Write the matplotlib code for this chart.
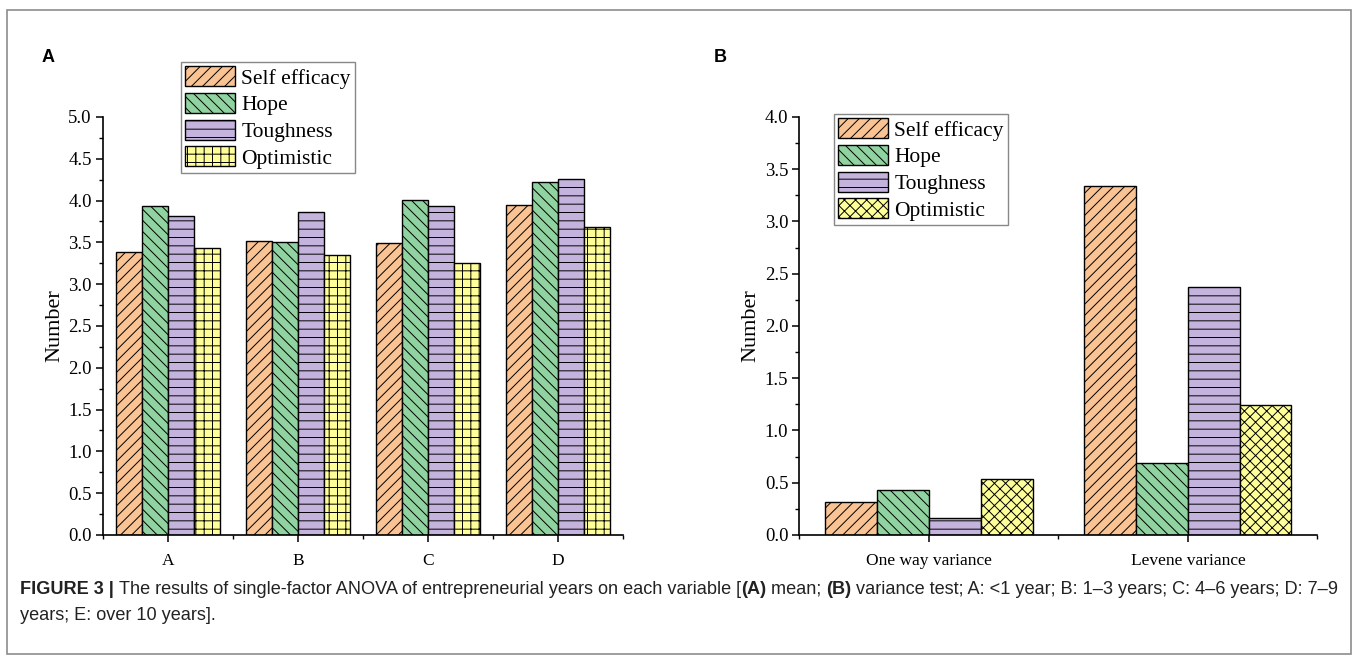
import matplotlib
import matplotlib.pyplot as plt
import numpy as np
from matplotlib.patches import Rectangle
from matplotlib.ticker import MultipleLocator

matplotlib.use("Agg")

# ---- data ----
series = ["Self efficacy", "Hope", "Toughness", "Optimistic"]

groups_a = ["A", "B", "C", "D"]
self_efficacy_a = [3.38, 3.52, 3.49, 3.95]
hope_a = [3.94, 3.51, 4.01, 4.22]
toughness_a = [3.81, 3.86, 3.93, 4.26]
optimistic_a = [3.43, 3.35, 3.25, 3.68]

groups_b = ["One way variance", "Levene variance"]
self_efficacy_b = [0.32, 3.34]
hope_b = [0.43, 0.69]
toughness_b = [0.16, 2.37]
optimistic_b = [0.54, 1.24]

_COLORS = ["#FAC393", "#90D3A0", "#C4B3DD", "#FFFF99"]
_HATCH_A = ["///", "\\\\\\", "--", "++"]
_HATCH_B = ["///", "\\\\\\", "--", "xxx"]

_SERIF = "Liberation Serif"
_SANS = "Liberation Sans"

plt.rcParams["hatch.linewidth"] = 0.7
plt.rcParams["font.family"] = _SERIF


def _panel(ax, groups, values, hatches, ymax):
    n = len(values)
    x = np.arange(1, len(groups) + 1)
    width = 0.2
    for i, (vals, color, hatch, name) in enumerate(zip(values, _COLORS, hatches, series)):
        offset = (i - (n - 1) / 2) * width
        ax.bar(x + offset, vals, width, color=color, edgecolor="black",
               hatch=hatch, linewidth=1.0, label=name, zorder=2)

    ax.set_xlim(0.5, len(groups) + 0.5)
    ax.set_ylim(0, ymax)
    ax.set_xticks(x)
    ax.set_xticklabels(groups, fontsize=12.5)
    ax.set_xticks(np.arange(0.5, len(groups) + 1, 1.0), minor=True)
    ax.yaxis.set_major_locator(MultipleLocator(0.5))
    ax.yaxis.set_minor_locator(MultipleLocator(0.25))
    ax.yaxis.set_major_formatter(matplotlib.ticker.FormatStrFormatter("%.1f"))
    for lbl in ax.get_yticklabels():
        lbl.set_fontsize(13.5)
    ax.tick_params(axis="both", which="major", direction="out", length=5, width=1.1, pad=3)
    ax.tick_params(axis="both", which="minor", direction="out", length=3, width=1.0)
    ax.tick_params(axis="x", which="major", pad=8)
    ax.spines["top"].set_visible(False)
    ax.spines["right"].set_visible(False)
    ax.spines["left"].set_linewidth(1.2)
    ax.spines["bottom"].set_linewidth(1.2)
    ax.set_ylabel("Number", fontsize=16, labelpad=3)


def _legend(ax, x_px, y_px):
    ax.legend(loc="upper left", bbox_to_anchor=(x_px / 1358, 1 - y_px / 659),
              bbox_transform=ax.figure.transFigure, fontsize=15.5, frameon=True,
              fancybox=False, edgecolor="#888888", framealpha=1,
              handlelength=2.3, handleheight=1.05, handletextpad=0.3,
              labelspacing=0.2, borderpad=0.2, borderaxespad=0)


fig = plt.figure(figsize=(13.58, 6.59), dpi=100)

ax_a = fig.add_axes([0.0758, 0.1882, 0.3829, 0.6343])
_panel(ax_a, groups_a, [self_efficacy_a, hope_a, toughness_a, optimistic_a], _HATCH_A, 5.0)
_legend(ax_a, 181, 62)

ax_b = fig.add_axes([0.5887, 0.1882, 0.3814, 0.6343])
_panel(ax_b, groups_b, [self_efficacy_b, hope_b, toughness_b, optimistic_b], _HATCH_B, 4.0)
_legend(ax_b, 834, 114)

# panel letters
fig.text(48 / 1358, 1 - 57 / 659, "A", fontsize=13, fontweight="bold",
         family=_SANS, ha="center", va="center")
fig.text(720 / 1358, 1 - 57 / 659, "B", fontsize=13, fontweight="bold",
         family=_SANS, ha="center", va="center")

# outer frame
fig.add_artist(Rectangle((7 / 1358, 1 - 654 / 659), 1344 / 1358, 644 / 659,
                         transform=fig.transFigure, fill=False,
                         edgecolor="#8c8c8c", linewidth=1.2))

# caption
cap_color = "#222222"
cap_size = 13.1
cap_x = 20 / 1358
line1_y = 1 - 594 / 659
line2_y = 1 - 620 / 659
renderer = fig.canvas.get_renderer()
parts = [("FIGURE 3 | ", "bold"),
         ("The results of single-factor ANOVA of entrepreneurial years on each variable [", "normal"),
         ("(A)", "bold"), (" mean; ", "normal"), ("(B)", "bold"),
         (" variance test; A: <1 year; B: 1\u20133 years; C: 4\u20136 years; D: 7\u20139", "normal")]
x_now = cap_x * fig.bbox.width
for txt, weight in parts:
    t = fig.text(x_now / fig.bbox.width, line1_y, txt, fontsize=cap_size, fontweight=weight,
                 family=_SANS, color=cap_color, va="baseline")
    x_now = t.get_window_extent(renderer=renderer).x1
fig.text(cap_x, line2_y, "years; E: over 10 years].", fontsize=cap_size,
         family=_SANS, color=cap_color, va="baseline")

fig.savefig("out.png", dpi=100)
plt.close(fig)
